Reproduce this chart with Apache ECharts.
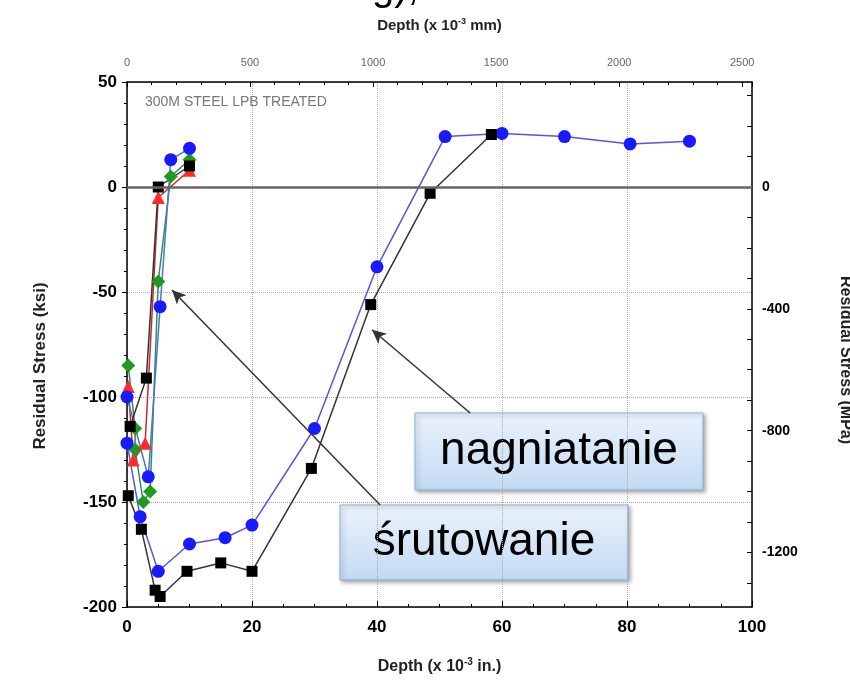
<!DOCTYPE html>
<html>
<head>
<meta charset="utf-8">
<script src="https://cdn.jsdelivr.net/npm/echarts@6/dist/echarts.min.js"></script>
<style>
  html, body { margin: 0; padding: 0; background: #fff; }
  #chart { width: 850px; height: 688px; }
</style>
</head>
<body>
<div id="chart"></div>
<script>
// depth (x 10^-3 in.), residual stress (ksi)
const blueLPB = [[0, -122], [2.1, -157], [5, -183], [10, -170], [15.7, -167], [20, -161], [30, -115], [40, -38], [50.9, 24], [60, 25.5], [70, 24], [80.5, 20.5], [90, 21.8]]
const blackLPB = [[0.2, -147], [2.3, -163], [4.5, -192], [5.3, -195], [9.6, -183], [15, -179], [20, -183], [29.5, -134], [39, -56], [48.5, -3], [58.3, 25]]
const redSP = [[0.2, -95], [1, -130], [2.9, -122], [5, -5], [10, 8]]
const greenSP = [[0.2, -85], [1.3, -115], [1.3, -125], [2.6, -150], [3.7, -145], [5, -45], [7, 5], [10, 13]]
const blueSP = [[0, -100], [3.4, -138], [5.3, -57], [7, 13], [10, 18.4]]
const blackSP = [[0.5, -114], [3.1, -91], [5, 0], [10, 10]]

const mmTicks = [0, 500, 1000, 1500, 2000, 2500]
const mpaLabels = [0, -400, -800, -1200]
const mpaTicks = [300, 200, 100, 0, -100, -200, -300, -400, -500, -600, -700, -800, -900, -1000, -1100, -1200, -1300]

// arrows: [from, to] in data coords
const arrowSrut = [[40.5, -151.4], [7.2, -49]]
const arrowNagn = [[54.9, -107.6], [39.2, -68]]

const KSI_TO_MPA = 6.894757
const IN_TO_MM = 25.4
const font = '"Liberation Sans", Arial, sans-serif'

const chart = echarts.init(document.getElementById('chart'))

function lineSeries(data, symbol, size, color, lineColor) {
  return {
    type: 'line',
    data: data,
    symbol: symbol,
    symbolSize: size,
    itemStyle: { color: color },
    lineStyle: { color: lineColor, width: 1.5 },
    animation: false
  }
}

const boxFill = new echarts.graphic.LinearGradient(0, 0, 0, 1, [
  { offset: 0, color: '#eaf2fc' },
  { offset: 1, color: '#c3daf3' }
])

function box(x, y, w, h, text) {
  return {
    type: 'group',
    children: [{
      type: 'rect',
      shape: { x: x, y: y, width: w, height: h },
      style: {
        fill: boxFill, stroke: '#8fb0d6', lineWidth: 1,
        shadowBlur: 4, shadowOffsetX: 2, shadowOffsetY: 2, shadowColor: 'rgba(0,0,0,0.35)'
      }
    }, {
      type: 'text',
      x: x + w / 2,
      y: y + h / 2,
      style: { text: text, font: '46px ' + font, fill: '#000', align: 'center', verticalAlign: 'middle' }
    }]
  }
}

const plain = v => String(Math.round(v))

const s1 = lineSeries(greenSP, 'diamond', 14, '#1f9a1f', '#2f8a6a')
const s2 = lineSeries(redSP, 'triangle', 13, '#ff2a2a', '#cc2a2a')
const s3 = lineSeries(blueSP, 'circle', 13, '#1a1aff', '#4a78b8')
const s4 = lineSeries(blackSP, 'rect', 11, '#000', '#333')
const s5 = lineSeries(blueLPB, 'circle', 13, '#1a1aff', '#5555e0')
const s6 = lineSeries(blackLPB, 'rect', 11, '#000', '#333')

s1.markLine = {
  silent: true, symbol: 'none', animation: false,
  label: { show: false },
  lineStyle: { color: '#666', width: 2.5, type: 'solid' },
  data: [{ yAxis: 0 }]
}
s6.markLine = {
  silent: true, symbol: ['none', 'arrow'], symbolSize: [10, 14], animation: false,
  label: { show: false },
  lineStyle: { color: '#333', width: 1.5, type: 'solid' },
  data: [
    [{ coord: arrowSrut[0] }, { coord: arrowSrut[1] }],
    [{ coord: arrowNagn[0] }, { coord: arrowNagn[1] }]
  ]
}

chart.setOption({
  backgroundColor: '#fff',
  grid: { left: 127, right: 98, top: 82, bottom: 81 },
  xAxis: [{
    type: 'value',
    min: 0, max: 100, interval: 20,
    name: '{a|Depth (x 10}{s|-3}{a| in.)}',
    nameLocation: 'middle', nameGap: 50,
    nameTextStyle: {
      rich: {
        a: { fontFamily: font, fontWeight: 'bold', fontSize: 16, color: '#222' },
        s: { fontFamily: font, fontWeight: 'bold', fontSize: 10, color: '#222', verticalAlign: 'top', padding: [0, 0, 10, 0] }
      }
    },
    axisLine: { onZero: false, lineStyle: { color: '#000', width: 1.5 } },
    axisTick: { inside: true, length: 6, lineStyle: { color: '#000' } },
    minorTick: { show: true, splitNumber: 4, length: 3, lineStyle: { color: '#000' } },
    axisLabel: { fontFamily: font, fontWeight: 'bold', fontSize: 17, color: '#000', margin: 12 },
    splitLine: { show: true, lineStyle: { type: 'dotted', color: '#aaa' } }
  }, {
    type: 'value',
    position: 'top',
    min: 0, max: 100 * IN_TO_MM, interval: 500,
    name: '{a|Depth (x 10}{s|-3}{a| mm)}',
    nameLocation: 'middle', nameGap: 47,
    nameTextStyle: {
      rich: {
        a: { fontFamily: font, fontWeight: 'bold', fontSize: 15, color: '#222' },
        s: { fontFamily: font, fontWeight: 'bold', fontSize: 9, color: '#222', verticalAlign: 'top', padding: [0, 0, 9, 0] }
      }
    },
    axisLine: { onZero: false, lineStyle: { color: '#000', width: 1.5 } },
    axisTick: { inside: true, length: 5, lineStyle: { color: '#000' } },
    minorTick: { show: true, splitNumber: 5, length: 3, lineStyle: { color: '#000' } },
    axisLabel: { customValues: mmTicks, formatter: plain, fontFamily: font, fontSize: 11, color: '#666', margin: 14 },
    splitLine: { show: false }
  }],
  yAxis: [{
    type: 'value',
    min: -200, max: 50, interval: 50,
    axisLine: { onZero: false, lineStyle: { color: '#000', width: 1.5 } },
    axisTick: { inside: false, length: 5, lineStyle: { color: '#000' } },
    minorTick: { show: true, splitNumber: 5, length: 3, lineStyle: { color: '#000' } },
    axisLabel: { fontFamily: font, fontWeight: 'bold', fontSize: 17, color: '#000', margin: 10 },
    splitLine: { show: true, lineStyle: { type: 'dotted', color: '#aaa' } }
  }, {
    type: 'value',
    position: 'right',
    min: -200 * KSI_TO_MPA, max: 50 * KSI_TO_MPA,
    axisLine: { onZero: false, lineStyle: { color: '#000', width: 1.5 } },
    axisTick: { customValues: mpaTicks, inside: true, length: 5, lineStyle: { color: '#000' } },
    axisLabel: { customValues: mpaLabels, formatter: plain, fontFamily: font, fontWeight: 'bold', fontSize: 14, color: '#000', margin: 10 },
    splitLine: { show: false }
  }],
  series: [s1, s2, s3, s4, s5, s6],
  graphic: [
    {
      type: 'text', left: 145, top: 95, z: 50,
      style: { text: '300M STEEL LPB TREATED', font: '14px ' + font, fill: '#777' }
    },
    {
      type: 'text', x: 40, y: 366, rotation: Math.PI / 2,
      style: { text: 'Residual Stress (ksi)', font: 'bold 17px ' + font, fill: '#222', align: 'center', verticalAlign: 'middle' }
    },
    {
      type: 'text', x: 845, y: 360, rotation: -Math.PI / 2,
      style: { text: 'Residual Stress (MPa)', font: 'bold 16px ' + font, fill: '#222', align: 'center', verticalAlign: 'middle' }
    },
    {
      type: 'text', x: 372, y: -31,
      style: { text: 'g),', font: '40px ' + font, fill: '#000', verticalAlign: 'top' }
    },
    box(415, 413, 288, 77, 'nagniatanie'),
    box(340, 505, 288, 75, 'śrutowanie')
  ]
})
</script>
</body>
</html>
